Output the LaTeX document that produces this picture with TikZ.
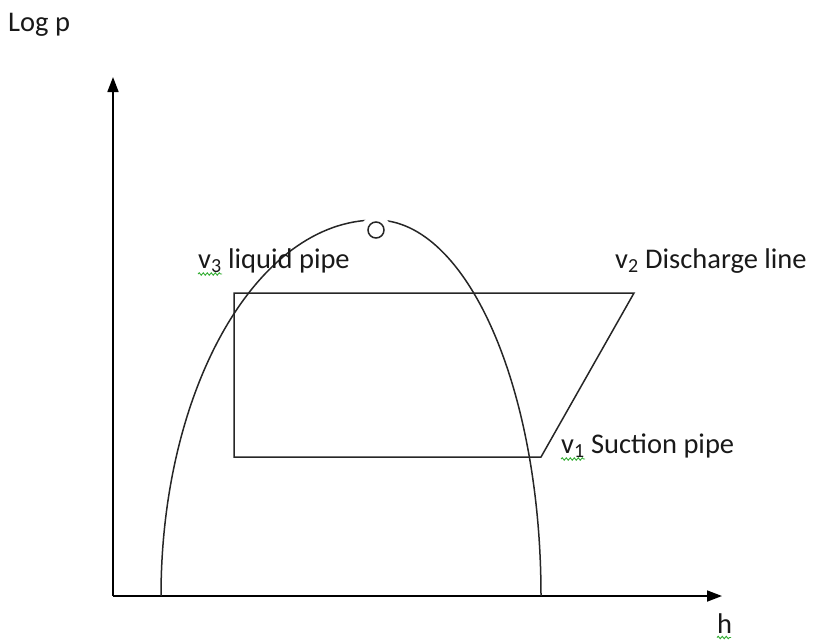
\documentclass[tikz,border=0pt]{standalone}
\usepackage{fontspec}
\setmainfont{Carlito}
\usetikzlibrary{arrows.meta,decorations.pathmorphing}
\begin{document}
\begin{tikzpicture}[x=1pt,y=-1pt,
  ln/.style={line width=1.5pt,draw=black!85},
  axis/.style={line width=1.7pt,-{Triangle[length=15pt,width=11pt]}},
  lbl/.style={anchor=base west,inner sep=0pt,font=\fontsize{28.5}{32}\selectfont,text=black!90},
  squig/.style={draw=green!60!black!80,line width=0.9pt,decorate,decoration={snake,amplitude=1.2pt,segment length=4pt}}]
\useasboundingbox (0,0) rectangle (816,641);
% axes
\coordinate (O) at (113,596);
\coordinate (Ytip) at (113,77);
\coordinate (Xtip) at (722,596);
\draw[axis] (O) -- (Ytip);
\draw[axis] (O) -- (Xtip);
% dome
\coordinate (dl) at (161,596);
\draw[ln] (dl) arc[start angle=180,end angle=90,x radius=215pt,y radius=376pt]
  coordinate (peak) arc[start angle=90,end angle=0,x radius=165pt,y radius=376pt] coordinate (dr);
\fill[white] (376,230) circle (15pt);
\node[circle,draw=black!85,line width=1.5pt,minimum size=16pt,inner sep=0pt] (cp) at (376,230) {};
% cycle
\coordinate (a) at (234,293);
\coordinate (b) at (634,293);
\coordinate (c) at (541,457);
\coordinate (d) at (234,457);
\draw[ln] (a) -- (b) -- (c) -- (d) -- cycle;
% labels
\node[lbl] (lp) at (8,31) {Log p};
\node[lbl] (l3) at (198,268) {v\textsubscript{3} liquid pipe};
\node[lbl] (l2) at (615,268) {v\textsubscript{2} Discharge line};
\node[lbl] (l1) at (561,453) {v\textsubscript{1} Suction pipe};
\node[lbl] (lh) at (717,633) {h};
% spell-check squiggles
\draw[squig] (198,274) -- (222,274);
\draw[squig] (561,459) -- (585,459);
\draw[squig] (717,637.5) -- (731,637.5);
\end{tikzpicture}
\end{document}
